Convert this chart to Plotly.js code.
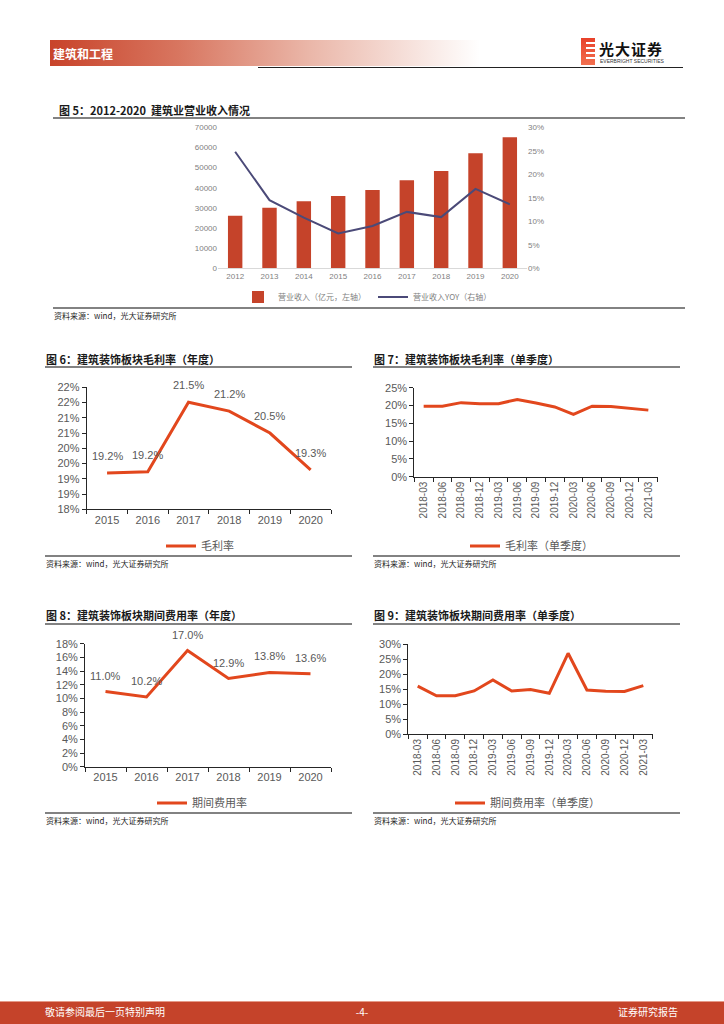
<!DOCTYPE html>
<html>
<head>
<meta charset="utf-8">
<script src="https://cdn.plot.ly/plotly-3.0.1.min.js"></script>
<style>
  html, body { margin: 0; padding: 0; background: #fff; }
  #page { position: relative; width: 724px; height: 1024px; overflow: hidden; font-family: "Noto Sans CJK SC", "Liberation Sans", sans-serif; }
  .abs { position: absolute; }
  #plot { position: absolute; left: 0; top: 0; width: 724px; height: 1024px; }
</style>
</head>
<body>
<div id="page">
  <!-- header -->
  <div class="abs" style="left:50px;top:40px;width:430px;height:26px;background:linear-gradient(to right,#c8432a 0%,#d87660 30%,#eab6a8 60%,#ffffff 100%);"></div>
  <div class="abs" style="left:53px;top:44px;height:20px;line-height:20px;color:#fff;font-size:12px;font-weight:bold;">建筑和工程</div>
  <div class="abs" style="left:258px;top:67px;width:425px;height:1px;background:#222;"></div>
  <!-- logo -->
  <div class="abs" style="left:581px;top:38px;width:14px;height:27px;background:linear-gradient(to bottom,#e8412a,#f2704f);"></div>
  <div class="abs" style="left:586px;top:42px;width:9px;height:2px;background:#fff;"></div>
  <div class="abs" style="left:586px;top:47px;width:9px;height:2px;background:#fff;"></div>
  <div class="abs" style="left:586px;top:52px;width:9px;height:2px;background:#fff;"></div>
  <div class="abs" style="left:586px;top:57px;width:9px;height:2px;background:#fff;"></div>
  <div class="abs" style="left:599px;top:40px;font-size:15px;font-weight:bold;color:#111;line-height:18px;letter-spacing:1px;">光大证券</div>
  <div class="abs" style="left:600px;top:58px;font-size:5px;color:#333;line-height:6px;font-family:'Liberation Sans';">EVERBRIGHT SECURITIES</div>
  <!-- footer -->
  <div class="abs" style="left:0;top:1001px;width:724px;height:23px;background:#c5432a;border-top:1px solid #e59a88;"></div>
  <div class="abs" style="left:45px;top:1004px;font-size:10px;color:#fff;line-height:16px;">敬请参阅最后一页特别声明</div>
  <div class="abs" style="left:352px;top:1004px;width:20px;text-align:center;font-size:10px;color:#fff;line-height:16px;">-4-</div>
  <div class="abs" style="left:598px;top:1004px;width:80px;text-align:right;font-size:10px;color:#fff;line-height:16px;">证券研究报告</div>
  <div id="plot"></div>
</div>
<script>
// ---------- data ----------
const years5 = ['2012','2013','2014','2015','2016','2017','2018','2019','2020'];
const revenue5 = [26100, 30000, 33300, 35900, 38900, 43700, 48300, 57100, 65000];
const yoy5 = [0.248, 0.145, 0.108, 0.074, 0.090, 0.120, 0.109, 0.169, 0.136];

const yearsAnnual = ['2015','2016','2017','2018','2019','2020'];
const grossMarginAnnual = [19.19, 19.23, 21.51, 21.22, 20.50, 19.29];
const grossTickVals = [18, 18.5, 19, 19.5, 20, 20.5, 21, 21.5, 22];
const grossTickText = ['18%','19%','19%','20%','20%','21%','21%','22%','22%'];

const quarters = ['2018-03','2018-06','2018-09','2018-12','2019-03','2019-06','2019-09','2019-12','2020-03','2020-06','2020-09','2020-12','2021-03'];
const grossMarginQuarterly = [19.8, 19.8, 20.8, 20.5, 20.5, 21.7, 20.7, 19.6, 17.5, 19.8, 19.7, 19.2, 18.7];

const expenseAnnual = [11.0, 10.2, 17.0, 12.9, 13.8, 13.6];
const expenseQuarterly = [16.0, 12.8, 12.8, 14.4, 18.1, 14.4, 14.9, 13.6, 27.0, 14.7, 14.3, 14.2, 16.2];

const names = {
  rev: '营业收入（亿元，左轴）',
  yoy: '营业收入YOY（右轴）',
  gm: '毛利率',
  gmq: '毛利率（单季度）',
  ex: '期间费用率',
  exq: '期间费用率（单季度）'
};

// ---------- helpers ----------
const W = 724, H = 1024;
const PX = p => p / W;
const PY = p => 1 - p / H;
const FONT = '"Liberation Sans", "Noto Sans CJK SC", sans-serif';
const CJK = '"Noto Sans CJK SC", "Liberation Sans", sans-serif';
const RED = '#e2471d';
const AX = '#262626';
const TXT = '#595959';

function catAxis(domain, anchor, n, extra) {
  return Object.assign({
    type: 'category', domain: [PX(domain[0]), PX(domain[1])], anchor: anchor,
    range: [-0.5, n - 0.5],
    showline: true, linecolor: AX, linewidth: 1,
    ticks: 'outside', tickson: 'boundaries', ticklen: 4, tickcolor: AX,
    showgrid: false, zeroline: false, tickangle: 0,
    tickfont: {family: FONT, size: 11, color: TXT}, fixedrange: true
  }, extra || {});
}
function valAxis(domain, anchor, extra) {
  return Object.assign({
    domain: [PY(domain[1]), PY(domain[0])], anchor: anchor,
    showline: true, linecolor: AX, linewidth: 1,
    ticks: 'outside', ticklen: 4, tickcolor: AX,
    showgrid: false, zeroline: false,
    tickfont: {family: FONT, size: 11, color: TXT}, fixedrange: true
  }, extra || {});
}
function lineLegend(x, y) {
  return {x: PX(x), y: PY(y), xanchor: 'left', yanchor: 'middle', orientation: 'h',
    bgcolor: 'rgba(0,0,0,0)', font: {family: CJK, size: 11, color: TXT}};
}

// ---------- traces ----------
const traces = [
  {type: 'bar', x: years5, y: revenue5, name: names.rev, xaxis: 'x', yaxis: 'y', legend: 'legend',
    marker: {color: '#c5432a'}, width: 0.42},
  {type: 'scatter', mode: 'lines', x: years5, y: yoy5, name: names.yoy, xaxis: 'x', yaxis: 'y2', legend: 'legend',
    line: {color: '#4b4a78', width: 2}},
  {type: 'scatter', mode: 'lines', x: yearsAnnual, y: grossMarginAnnual, name: names.gm, xaxis: 'x2', yaxis: 'y3', legend: 'legend2',
    line: {color: RED, width: 3}},
  {type: 'scatter', mode: 'lines', x: quarters, y: grossMarginQuarterly, name: names.gmq, xaxis: 'x3', yaxis: 'y4', legend: 'legend3',
    line: {color: RED, width: 3}},
  {type: 'scatter', mode: 'lines', x: yearsAnnual, y: expenseAnnual, name: names.ex, xaxis: 'x4', yaxis: 'y5', legend: 'legend4',
    line: {color: RED, width: 3}},
  {type: 'scatter', mode: 'lines', x: quarters, y: expenseQuarterly, name: names.exq, xaxis: 'x5', yaxis: 'y6', legend: 'legend5',
    line: {color: RED, width: 3}}
];

// ---------- annotations ----------
const annotations = [];
function title(text, x, y) {
  annotations.push({text: text, xref: 'paper', yref: 'paper', x: PX(x), y: PY(y), xanchor: 'left', yanchor: 'middle',
    showarrow: false, font: {family: CJK, size: 11, color: '#1a1a1a'}});
}
function source(x, y) {
  annotations.push({text: '资料来源：wind，光大证券研究所', xref: 'paper', yref: 'paper', x: PX(x), y: PY(y), xanchor: 'left', yanchor: 'middle',
    showarrow: false, font: {family: CJK, size: 8, color: '#262626'}});
}
title('<b>图 5：2012-2020  建筑业营业收入情况</b>', 57, 110);
title('<b>图 6：建筑装饰板块毛利率（年度）</b>', 44, 359);
title('<b>图 7：建筑装饰板块毛利率（单季度）</b>', 372, 359);
title('<b>图 8：建筑装饰板块期间费用率（年度）</b>', 44, 615);
title('<b>图 9：建筑装饰板块期间费用率（单季度）</b>', 372, 615);
source(52, 315);
source(44, 563);
source(372, 563);
source(44, 820);
source(372, 820);

// data labels: x given as the category index on the category axis
yearsAnnual.forEach((c, i) => {
  annotations.push({x: i, y: grossMarginAnnual[i], xref: 'x2', yref: 'y3', text: grossMarginAnnual[i].toFixed(1) + '%',
    showarrow: false, yshift: 17, font: {family: FONT, size: 11, color: TXT}});
  annotations.push({x: i, y: expenseAnnual[i], xref: 'x4', yref: 'y5', text: expenseAnnual[i].toFixed(1) + '%',
    showarrow: false, yshift: 16, font: {family: FONT, size: 11, color: TXT}});
});

// ---------- separator lines ----------
const shapes = [];
function hline(x0, x1, y, color, w) {
  shapes.push({type: 'line', xref: 'paper', yref: 'paper', x0: PX(x0), x1: PX(x1), y0: PY(y), y1: PY(y),
    line: {color: color, width: w}});
}
hline(53, 685, 118, '#595959', 1.3);
hline(53, 685, 308, '#595959', 1.3);
hline(45, 352, 367, '#595959', 1.3);
hline(373, 680, 367, '#595959', 1.3);
hline(45, 352, 556, '#595959', 1.3);
hline(373, 680, 556, '#595959', 1.3);
hline(45, 352, 624, '#595959', 1.3);
hline(373, 680, 624, '#595959', 1.3);
hline(45, 352, 813, '#595959', 1.3);
hline(373, 680, 813, '#595959', 1.3);

const small = {family: FONT, size: 8, color: '#7f7f7f'};

const layout = {
  width: W, height: H,
  margin: {l: 0, r: 0, t: 0, b: 0},
  paper_bgcolor: 'rgba(0,0,0,0)', plot_bgcolor: 'rgba(0,0,0,0)',
  font: {family: FONT},
  showlegend: true,
  // chart 5
  xaxis: {type: 'category', domain: [PX(218), PX(527)], anchor: 'y', range: [-0.5, years5.length - 0.5],
    showline: true, linecolor: '#d9d9d9', linewidth: 1,
    ticks: '', showgrid: false, zeroline: false, tickfont: small, fixedrange: true},
  yaxis: {domain: [PY(268.3), PY(127.3)], anchor: 'x', range: [0, 70000], dtick: 10000, tickformat: 'd',
    showline: false, showgrid: false, zeroline: false, ticks: '', tickfont: small, fixedrange: true},
  yaxis2: {overlaying: 'y', side: 'right', anchor: 'x', range: [0, 0.30], dtick: 0.05, tickformat: '.0%',
    showline: false, showgrid: false, zeroline: false, ticks: '', tickfont: small, fixedrange: true},
  legend: {x: PX(238), y: PY(297), xanchor: 'left', yanchor: 'middle', orientation: 'h',
    entrywidth: 90, entrywidthmode: 'pixels',
    bgcolor: 'rgba(0,0,0,0)', font: {family: CJK, size: 8, color: '#7f7f7f'}},
  // chart 6
  xaxis2: catAxis([86.7, 331], 'y3', yearsAnnual.length),
  yaxis3: valAxis([387.3, 509.3], 'x2', {range: [18, 22], tickvals: grossTickVals, ticktext: grossTickText}),
  legend2: lineLegend(161, 546),
  // chart 7
  xaxis3: catAxis([414.3, 657.7], 'y4', quarters.length, {tickangle: -90, tickfont: {family: FONT, size: 10, color: TXT}}),
  yaxis4: valAxis([387.7, 476.7], 'x3', {range: [0, 25], dtick: 5, ticksuffix: '%'}),
  legend3: lineLegend(465, 546),
  // chart 8
  xaxis4: catAxis([85, 331], 'y5', yearsAnnual.length),
  yaxis5: valAxis([643.7, 766.7], 'x4', {range: [0, 18], dtick: 2, ticksuffix: '%'}),
  legend4: lineLegend(152, 803),
  // chart 9
  xaxis5: catAxis([408.3, 652.7], 'y6', quarters.length, {tickangle: -90, tickfont: {family: FONT, size: 10, color: TXT}}),
  yaxis6: valAxis([644.3, 734], 'x5', {range: [0, 30], dtick: 5, ticksuffix: '%'}),
  legend5: lineLegend(450, 803),
  annotations: annotations,
  shapes: shapes
};

Plotly.newPlot('plot', traces, layout, {displayModeBar: false, staticPlot: true});
</script>
</body>
</html>
